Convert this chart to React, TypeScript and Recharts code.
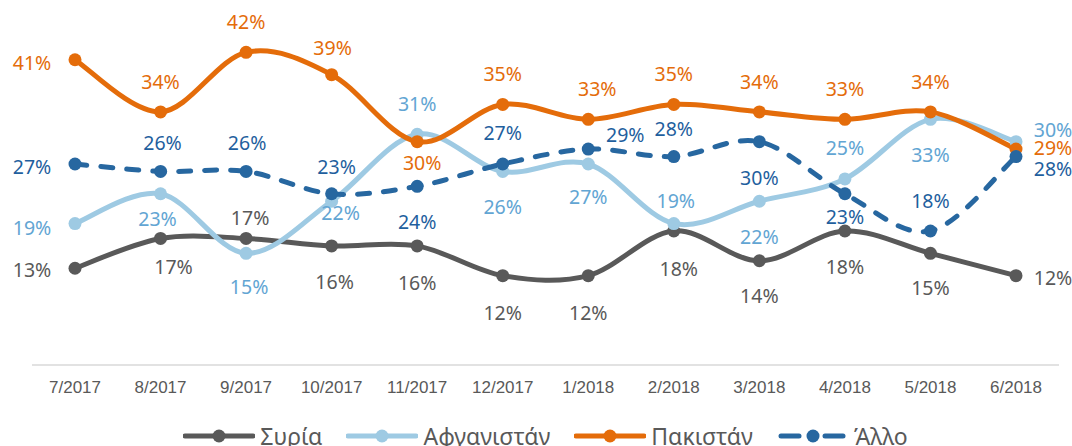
import { LineChart, Line, XAxis, YAxis, Legend, LabelList } from 'recharts';

const months = [
  '7/2017', '8/2017', '9/2017', '10/2017', '11/2017', '12/2017',
  '1/2018', '2/2018', '3/2018', '4/2018', '5/2018', '6/2018',
];
const syria = [13, 17, 17, 16, 16, 12, 12, 18, 14, 18, 15, 12];
const afghanistan = [19, 23, 15, 22, 31, 26, 27, 19, 22, 25, 33, 30];
const pakistan = [41, 34, 42, 39, 30, 35, 33, 35, 34, 33, 34, 29];
const other = [27, 26, 26, 23, 24, 27, 29, 28, 30, 23, 18, 28];

// label offsets from each point (dx, dy to label centre)
const syriaLabelPos = [[-43, 2], [13, 29], [4, -20], [3, 36], [0, 37], [0, 37], [0, 37], [5, 38], [0, 35], [0, 36], [0, 35], [37, 2]];
const afghanLabelPos = [[-43, 4], [-3, 25], [3, 34], [9, 12], [0, -30], [0, 36], [0, 33], [2, -23], [0, 36], [0, -31], [0, 36], [37, -12]];
const pakistanLabelPos = [[-43, 3], [0, -30], [0, -30], [1, -27], [5, 21], [0, -30], [9, -30], [0, -30], [0, -30], [0, -30], [0, -30], [37, -1]];
const otherLabelPos = [[-43, 3], [2, -28], [1, -28], [5, -27], [0, 36], [0, -31], [37, -14], [0, -28], [0, 36], [0, 23], [0, -30], [37, 12]];

const data = months.map((m, i) => ({
  month: m,
  syria: syria[i],
  afghanistan: afghanistan[i],
  pakistan: pakistan[i],
  other: other[i],
}));

const series = [
  { key: 'syria', name: 'Συρία', color: '#595959', text: '#595959', values: syria, pos: syriaLabelPos, dashed: false },
  { key: 'afghanistan', name: 'Αφγανιστάν', color: '#9ECAE3', text: '#62A5D3', values: afghanistan, pos: afghanLabelPos, dashed: false },
  { key: 'pakistan', name: 'Πακιστάν', color: '#E46C0A', text: '#E46C0A', values: pakistan, pos: pakistanLabelPos, dashed: false },
  { key: 'other', name: 'Άλλο', color: '#2767A0', text: '#1F5F9E', values: other, pos: otherLabelPos, dashed: true },
];

const LABEL_FS = 19.5;

// excel-like smoothing (catmull-rom through the points)
const smoothCurve = (context: any) => {
  let pts: number[][] = [];
  return {
    areaStart() {},
    areaEnd() {},
    lineStart() { pts = []; },
    point(x: number, y: number) { pts.push([+x, +y]); },
    lineEnd() {
      const n = pts.length;
      if (!n) return;
      context.moveTo(pts[0][0], pts[0][1]);
      for (let i = 0; i < n - 1; i++) {
        const p0 = pts[Math.max(i - 1, 0)];
        const p1 = pts[i];
        const p2 = pts[i + 1];
        const p3 = pts[Math.min(i + 2, n - 1)];
        context.bezierCurveTo(
          p1[0] + (p2[0] - p0[0]) / 6, p1[1] + (p2[1] - p0[1]) / 6,
          p2[0] - (p3[0] - p1[0]) / 6, p2[1] - (p3[1] - p1[1]) / 6,
          p2[0], p2[1],
        );
      }
    },
  };
};

const makeLabel = (s: any) => (props: any) => {
  const vb = props.viewBox || {};
  const x = props.x ?? vb.x;
  const y = props.y ?? vb.y;
  const i = props.index;
  if (x == null || y == null || i == null) return null;
  const [dx, dy] = s.pos[i] || [0, -30];
  return (
    <text
      x={x + dx}
      y={y + dy + LABEL_FS * 0.36}
      textAnchor="middle"
      fill={s.text}
      fontSize={LABEL_FS}
      fontFamily="'Noto Sans', sans-serif"
    >
      {s.values[i]}%
    </text>
  );
};

const LegendIcon = ({ color, dashed }: { color: string; dashed: boolean }) => (
  <svg width={72} height={16} style={{ display: 'block' }}>
    {dashed ? (
      <>
        <line x1={4} y1={8} x2={22} y2={8} stroke={color} strokeWidth={5} strokeLinecap="round" />
        <line x1={48} y1={8} x2={66} y2={8} stroke={color} strokeWidth={5} strokeLinecap="round" />
      </>
    ) : (
      <line x1={2} y1={8} x2={70} y2={8} stroke={color} strokeWidth={5} strokeLinecap="round" />
    )}
    <circle cx={36} cy={8} r={6.5} fill={color} />
  </svg>
);

const renderLegend = () => (
  <div
    style={{
      height: 40,
      paddingTop: 20,
      boxSizing: 'border-box',
      display: 'flex',
      justifyContent: 'center',
      alignItems: 'center',
    }}
  >
    {series.map((s) => (
      <div key={s.key} style={{ display: 'flex', alignItems: 'center', margin: '0 12px', height: 22 }}>
        <LegendIcon color={s.color} dashed={s.dashed} />
        <span
          style={{
            marginLeft: 5,
            fontSize: 23,
            color: '#595959',
            fontFamily: "'Noto Sans', sans-serif",
            lineHeight: '22px',
          }}
        >
          {s.name}
        </span>
      </div>
    ))}
  </div>
);

export default function App() {
  return (
    <div style={{ position: 'absolute', left: 0, top: 0, background: '#fff' }}>
      <LineChart width={1072} height={446} data={data} margin={{ top: 30, right: 13, bottom: 0, left: 32 }}>
        <XAxis
          dataKey="month"
          tickLine={false}
          tickSize={0}
          tickMargin={16}
          height={41}
          padding={{ left: 43, right: 43 }}
          axisLine={{ stroke: '#D9D9D9', strokeWidth: 1.5 }}
          tick={{ fill: '#595959', fontSize: 17, fontFamily: "'Liberation Sans', Arial, sans-serif" }}
          interval={0}
        />
        <YAxis hide domain={[0, 45]} />
        <Legend verticalAlign="bottom" content={renderLegend} />
        {series.map((s) => (
          <Line
            key={s.key}
            dataKey={s.key}
            name={s.name}
            type={smoothCurve as any}
            stroke={s.color}
            strokeWidth={5}
            strokeDasharray={s.dashed ? '12 14' : undefined}
            strokeLinecap="round"
            dot={{ r: 6.5, fill: s.color, stroke: s.color, strokeWidth: 0, strokeDasharray: '' }}
            activeDot={false}
            isAnimationActive={false}
          >
            <LabelList dataKey={s.key} content={makeLabel(s)} />
          </Line>
        ))}
      </LineChart>
    </div>
  );
}
